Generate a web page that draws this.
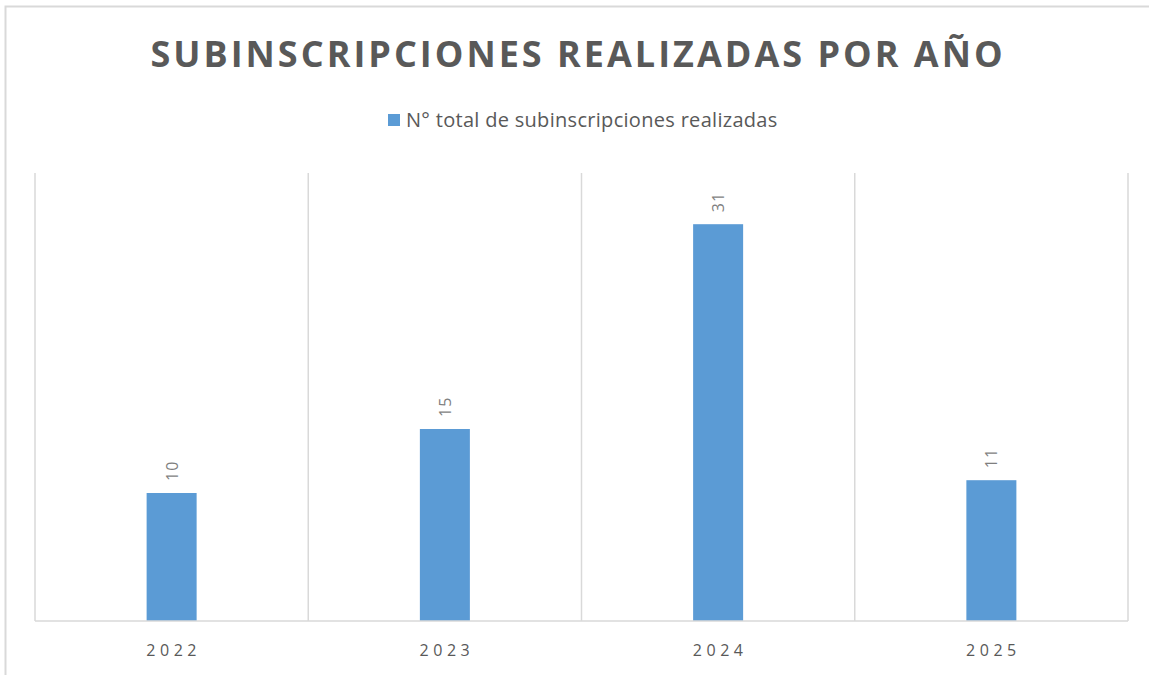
<!DOCTYPE html>
<html>
<head>
<meta charset="utf-8">
<script src="https://cdn.jsdelivr.net/npm/d3@7"></script>
<style>
  body { margin: 0; background: #fff; }
  text { font-family: "Open Sans", sans-serif; }
</style>
</head>
<body>
<div id="chart"></div>
<script>
//chart data
var years = ["2022", "2023", "2024", "2025"];
var totals = [10, 15, 31, 11];
var seriesName = "N° total de subinscripciones realizadas";
var chartTitle = "SUBINSCRIPCIONES REALIZADAS POR AÑO";

var width = 1149,
  height = 675;

var margin = { top: 173, right: 21, bottom: 54, left: 35 };

var svg = d3
  .select("#chart")
  .append("svg")
  .attr("width", width)
  .attr("height", height);

//outer chart border (right and bottom edges fall outside the picture)
svg
  .append("rect")
  .attr("x", 5.5)
  .attr("y", 6.5)
  .attr("width", 1200)
  .attr("height", 700)
  .attr("fill", "none")
  .attr("stroke", "#d9d9d9")
  .attr("stroke-width", 2);

var x = d3
  .scaleBand()
  .domain(years)
  .range([margin.left, width - margin.right])
  .padding(0);

var y = d3
  .scaleLinear()
  .domain([0, 35])
  .range([height - margin.bottom, margin.top]);

//vertical gridlines between categories
var bounds = years.map(function(d) { return x(d); }).concat([x.range()[1]]);
svg
  .selectAll(".grid")
  .data(bounds)
  .enter()
  .append("line")
  .attr("x1", function(d) { return d; })
  .attr("x2", function(d) { return d; })
  .attr("y1", y(35))
  .attr("y2", y(0))
  .attr("stroke", "#d9d9d9")
  .attr("stroke-width", 1.5);

//bars
var barW = x.bandwidth() * 0.183;
svg
  .selectAll(".bar")
  .data(totals)
  .enter()
  .append("rect")
  .attr("x", function(d, i) { return x(years[i]) + x.bandwidth() / 2 - barW / 2; })
  .attr("y", function(d) { return y(d); })
  .attr("width", barW)
  .attr("height", function(d) { return y(0) - y(d); })
  .attr("fill", "#5b9bd5");

//baseline
svg
  .append("line")
  .attr("x1", x.range()[0])
  .attr("x2", x.range()[1])
  .attr("y1", y(0))
  .attr("y2", y(0))
  .attr("stroke", "#d9d9d9")
  .attr("stroke-width", 1.5);

//rotated value labels
svg
  .selectAll(".val")
  .data(totals)
  .enter()
  .append("text")
  .attr("transform", function(d, i) {
    return "translate(" + (x(years[i]) + x.bandwidth() / 2 + 6) + "," + (y(d) - 12) + ") rotate(-90)";
  })
  .attr("font-size", 16)
  .attr("fill", "#7f7f7f")
  .attr("letter-spacing", 1)
  .text(function(d) { return d; });

//category labels
svg
  .selectAll(".cat")
  .data(years)
  .enter()
  .append("text")
  .attr("x", function(d) { return x(d) + x.bandwidth() / 2 + 2; })
  .attr("y", 656)
  .attr("text-anchor", "middle")
  .attr("font-size", 16)
  .attr("letter-spacing", 4.5)
  .attr("fill", "#595959")
  .text(function(d) { return d; });

//title
svg
  .append("text")
  .attr("x", 578)
  .attr("y", 67)
  .attr("text-anchor", "middle")
  .attr("font-size", 36)
  .attr("font-weight", "bold")
  .attr("letter-spacing", 3)
  .attr("fill", "#595959")
  .text(chartTitle);

//legend
svg
  .append("rect")
  .attr("x", 388)
  .attr("y", 114)
  .attr("width", 12)
  .attr("height", 12)
  .attr("fill", "#5b9bd5");

svg
  .append("text")
  .attr("x", 406)
  .attr("y", 127)
  .attr("font-size", 20)
  .attr("letter-spacing", 0.3)
  .attr("fill", "#595959")
  .text(seriesName);
</script>
</body>
</html>
